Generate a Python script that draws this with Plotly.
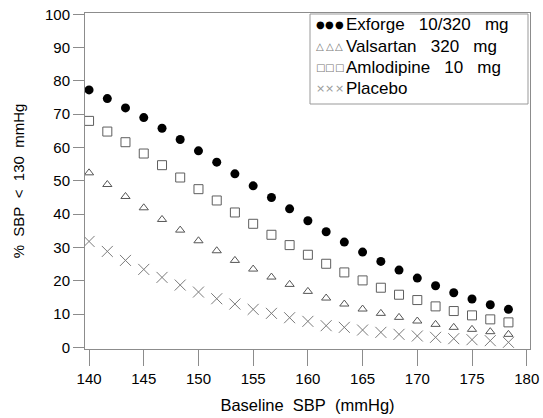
import plotly.graph_objects as go

baseline_sbp = [140, 141.67, 143.33, 145, 146.67, 148.33, 150, 151.67, 153.33, 155,
                156.67, 158.33, 160, 161.67, 163.33, 165, 166.67, 168.33, 170, 171.67,
                173.33, 175, 176.67, 178.33]

exforge = [77.3, 74.7, 71.9, 69.0, 65.8, 62.4, 59.0, 55.6, 52.1, 48.5, 45.0, 41.6,
           38.0, 34.7, 31.6, 28.6, 25.8, 23.2, 20.8, 18.5, 16.4, 14.5, 12.8, 11.4]
valsartan = [52.4, 48.9, 45.3, 41.9, 38.4, 35.2, 32.0, 29.0, 26.1, 23.5, 21.1, 18.9,
             16.8, 14.8, 13.0, 11.5, 10.2, 9.0, 7.9, 6.9, 6.0, 5.4, 4.7, 3.9]
amlodipine = [68.0, 64.8, 61.6, 58.2, 54.7, 51.0, 47.5, 44.1, 40.5, 37.1, 33.8, 30.7,
              27.8, 25.1, 22.5, 20.1, 17.9, 15.8, 14.2, 12.3, 10.9, 9.6, 8.4, 7.5]
placebo = [31.8, 28.8, 26.1, 23.4, 21.0, 18.7, 16.6, 14.6, 13.0, 11.4, 10.2, 8.9,
           7.8, 6.5, 6.0, 5.2, 4.5, 3.9, 3.4, 3.0, 2.6, 2.3, 2.0, 1.5]

series_names = ["Exforge 10/320 mg", "Valsartan 320 mg", "Amlodipine 10 mg", "Placebo"]
legend_glyphs = ["\u25CF", "\u25B3", "\u25A1", "\u00D7"]

x_ticks = [140, 145, 150, 155, 160, 165, 170, 175, 180]
y_ticks = [0, 10, 20, 30, 40, 50, 60, 70, 80, 90, 100]

x_title = "Baseline SBP (mmHg)"
y_title = "% SBP < 130 mmHg"

FONT = "Liberation Sans, Arial, sans-serif"
AXIS = "#8c8c8c"

W, H = 543, 418
PL, PR, PT, PB = 85, 530, 13, 349          # plot box in page pixels
L, R, T, B = PL, W - PR, PT, H - PB


def px(xp):
    return (xp - PL) / (PR - PL)


def py(yp):
    return (PB - yp) / (PB - PT)


def spaced(s, n):
    return s.replace(" ", "\u00a0" * n)


fig = go.Figure()

styles = [
    dict(symbol="circle", size=9, color="black", line=dict(width=0)),
    dict(symbol="triangle-up-open", size=8, color="#555555", line=dict(width=1, color="#555555")),
    dict(symbol="square-open", size=9, color="#5e5e5e", line=dict(width=1, color="#5e5e5e")),
    dict(symbol="x-thin-open", size=11, color="#7a7a7a", line=dict(width=1, color="#7a7a7a")),
]
values = [exforge, valsartan, amlodipine, placebo]

for name, vals, st in zip(series_names, values, styles):
    fig.add_trace(go.Scatter(x=baseline_sbp, y=vals, mode="markers", name=name,
                             marker=st, showlegend=False))

# legend box
fig.add_shape(type="rect", xref="paper", yref="paper",
              x0=px(310), x1=px(528), y0=py(104), y1=py(14),
              line=dict(color="#999999", width=1), fillcolor="white")

glyph_colors = ["black", "#777777", "#777777", "#999999"]
glyph_sizes = [10, 10, 10, 11]
row_y = [25, 46.3, 67.6, 88.9]
for i, name in enumerate(series_names):
    for gx in (320, 329.5, 339):
        fig.add_annotation(xref="paper", yref="paper", x=px(gx), y=py(row_y[i]),
                           text=legend_glyphs[i], showarrow=False, xanchor="center",
                           yanchor="middle",
                           font=dict(family="DejaVu Sans", size=glyph_sizes[i], color=glyph_colors[i]))
    fig.add_annotation(xref="paper", yref="paper", x=px(344), y=py(row_y[i]),
                       text=spaced(name, 3), showarrow=False,
                       xanchor="left", yanchor="middle",
                       font=dict(family=FONT, size=17, color="black"))

fig.update_xaxes(range=[139.63, 180.3], tickvals=x_ticks, ticks="outside", ticklen=16,
                 tickcolor=AXIS, showline=True, linecolor=AXIS, linewidth=1, mirror=True,
                 showgrid=False, zeroline=False, automargin=False, ticklabeloverflow="allow",
                 tickfont=dict(family=FONT, size=15, color="black"),
                 title=dict(text=spaced(x_title, 2), standoff=13,
                            font=dict(family=FONT, size=16.5, color="black")))
fig.update_yaxes(range=[-0.5, 100.4], tickvals=y_ticks, ticks="outside", ticklen=11,
                 tickcolor=AXIS, showline=True, linecolor=AXIS, linewidth=1, mirror=True,
                 showgrid=False, zeroline=False, automargin=False, ticklabeloverflow="allow",
                 tickfont=dict(family=FONT, size=15, color="black"),
                 title=dict(text=spaced(y_title, 2), standoff=16,
                            font=dict(family=FONT, size=15, color="black")))

fig.update_layout(width=W, height=H, margin=dict(l=L, r=R, t=T, b=B),
                  plot_bgcolor="white", paper_bgcolor="white", showlegend=False)

fig.write_html("out.html", config={"displayModeBar": False},
               post_script="document.body.style.margin='0px';document.body.style.overflow='hidden';")
